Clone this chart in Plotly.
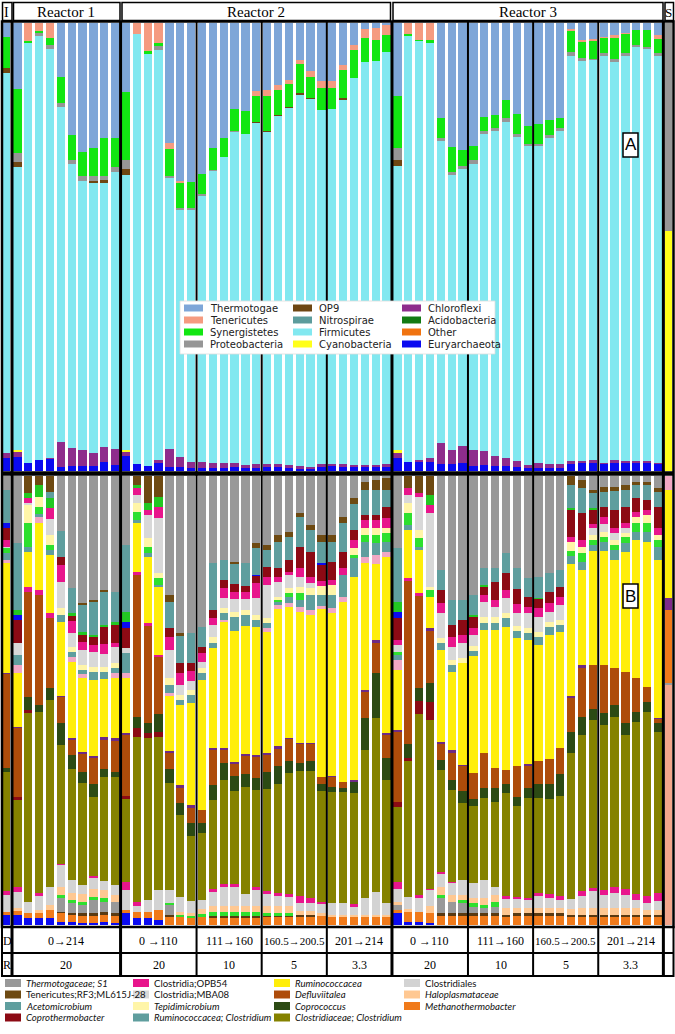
import plotly.graph_objects as go

W, H = 675, 1034


def px(x):
    return x / W


def py(y):
    return 1 - y / H


# samples: inoculum, 10 x reactor 1, 25 x reactor 2, 25 x reactor 3, substrate
samples = ["I"] + [f"R1-{i}" for i in range(1, 11)] + [f"R2-{i}" for i in range(1, 26)] + [f"R3-{i}" for i in range(1, 26)]
samples_a = samples + ["S"]
widths_b = [0.6] + [0.76] * 60
widths_a = widths_b + [0.62]

# ---------------- panel A : phyla (%) ----------------
euryarchaeota = [2.9, 3.1, 1.8, 2.5, 2.7, 0.9, 1.1, 1.1, 1.1, 2.0, 1.3,
                 3.4, 1.5, 1.1, 2.0, 0.9, 0.9, 0.7, 0.7, 0.7, 0.7,
                 0.9, 0.7, 0.7, 0.9, 0.9, 0.7, 0.4, 0.5, 1.1, 1.1,
                 1.1, 1.1, 1.1, 1.1, 1.1, 2.9, 2.0, 2.0, 2.0, 1.6,
                 1.6, 1.8, 1.1, 1.3, 1.1, 1.1, 0.9, 0.7, 0.7, 0.7,
                 0.7, 1.6, 1.8, 1.8, 1.6, 1.8, 1.8, 1.8, 1.8, 1.6, 0]
chloroflexi = [1.1, 1.3, 0, 0, 0.2, 5.6, 4.0, 3.6, 2.9, 3.3, 3.6,
               1.0, 0, 0, 0.4, 4.0, 2.2, 1.3, 1.3, 1.1, 1.1,
               0.9, 0.7, 0.9, 0.7, 0.7, 0.7, 0.7, 0.5, 0.4, 0.5,
               0.4, 0.2, 0.2, 0.2, 0.4, 1.3, 0, 0.5, 0.9, 4.7,
               3.1, 3.8, 3.6, 3.1, 2.2, 1.8, 1.3, 0.7, 1.1, 0.9,
               0.9, 0.7, 0.5, 0.7, 0.2, 0.7, 0.4, 0.4, 0.4, 0.2, 0]
cyanobacteria = [0, 0.3, 0, 0, 0, 0, 0, 0, 0, 0, 0,
                 0.3, 0, 0, 0, 0, 0, 0, 0, 0, 0,
                 0, 0, 0, 0, 0, 0, 0, 0, 0, 0,
                 0, 0, 0, 0, 0, 0.4, 0, 0, 0, 0,
                 0, 0, 0, 0, 0, 0, 0, 0, 0, 0,
                 0, 0, 0, 0, 0, 0, 0, 0, 0, 0, 53.6]
firmicutes = [84.8, 63.2, 93.8, 94.5, 91.3, 74.8, 63.4, 60.0, 60.5, 59.2, 61.8,
              61.4, 96.0, 92.2, 91.5, 60.7, 55.2, 56.4, 59.6, 65.2, 68.3,
              73.9, 73.9, 76.1, 74.1, 77.7, 79.7, 83.0, 82.1, 79.1, 79.2,
              81.5, 86.4, 90.0, 90.2, 92.1, 63.5, 95.3, 93.5, 92.6, 67.3,
              61.3, 61.8, 63.8, 70.8, 72.6, 75.0, 72.3, 71.2, 70.8, 72.7,
              74.3, 90.4, 89.2, 89.3, 90.9, 89.0, 90.5, 92.5, 92.2, 90.8, 0]
op9 = [1.1, 1.1, 0, 0, 0, 0, 0, 0, 0.2, 0.4, 0,
       1.3, 0, 0, 0, 0, 0, 0, 0, 0, 0,
       0, 0, 0.2, 0.2, 0.2, 0.2, 0.2, 0.2, 0, 0,
       0.2, 0, 0, 0, 0, 1.3, 0, 0, 0, 0,
       0, 0, 0, 0, 0, 0, 0, 0, 0, 0,
       0, 0, 0, 0, 0, 0, 0, 0, 0, 0, 0]
proteobacteria = [0, 2.0, 0, 0.7, 0.9, 0.9, 0.9, 1.1, 1.1, 0.9, 1.1,
                  2.0, 0, 0, 0.9, 0.3, 0.4, 0.3, 0.2, 0.2, 0,
                  0.2, 0, 0, 0, 0, 0, 0, 0, 0, 0,
                  0, 0, 0, 0, 0, 2.7, 0, 0, 0, 0.7,
                  0.7, 0.7, 0.9, 0.7, 0.7, 0.9, 0.7, 0.4, 0.4, 0.7,
                  0.7, 0.9, 0.7, 0.2, 0.7, 0.4, 0.7, 0.4, 0.2, 0.7, 46.4]
synergistetes = [6.9, 14.3, 0.4, 0.5, 1.6, 5.8, 5.6, 5.4, 6.3, 8.5, 6.5,
                 15.2, 0, 0.4, 0.7, 6.0, 5.6, 5.8, 4.5, 4.9, 4.2,
                 4.9, 5.1, 5.8, 7.8, 5.6, 5.1, 6.5, 4.7, 4.9, 4.7,
                 6.3, 6.3, 5.4, 4.7, 3.8, 11.6, 0.2, 0.2, 0.7, 4.5,
                 5.6, 3.6, 3.1, 3.1, 2.9, 4.0, 4.5, 4.0, 4.5, 3.3,
                 2.2, 4.7, 3.6, 4.0, 3.3, 4.7, 4.2, 3.3, 3.8, 3.1, 0]
tenericutes = [0, 0, 4.0, 1.8, 3.3, 0, 0, 0, 0, 0, 0,
               0, 2.5, 6.3, 4.5, 1.3, 0.4, 0, 0, 0, 0,
               0, 0, 1.1, 1.3, 1.1, 0.9, 0.9, 1.3, 1.6, 1.6,
               1.1, 1.1, 2.0, 2.7, 2.2, 0, 2.5, 3.8, 3.8, 0,
               0, 0, 0, 0, 0, 0, 0, 0, 0, 0,
               0, 0.4, 0.4, 0.4, 0.2, 0.7, 0.2, 0, 0, 0.9, 0]
thermotogae = [3.1, 14.7, 0, 0, 0, 12.1, 25.0, 28.8, 27.9, 25.7, 25.7,
               15.4, 0, 0, 0, 26.8, 35.3, 35.5, 33.7, 27.9, 25.7,
               19.2, 19.6, 15.2, 15.0, 13.8, 12.7, 8.3, 10.7, 12.9, 12.9,
               9.4, 4.9, 1.3, 1.1, 0.4, 16.3, 0, 0, 0, 21.2,
               27.7, 28.3, 27.5, 21.0, 20.5, 17.2, 20.3, 23.0, 22.5, 21.7,
               21.2, 1.3, 3.8, 3.6, 3.1, 2.7, 2.2, 1.6, 1.6, 2.7, 0]

# ---------------- panel B : genera (%) ----------------
blue_low = [2.4, 2.2, 1.6, 1.6, 1.6, 0.7, 0.7, 0.4, 0.4, 0.7, 0.4,
            2.7, 1.6, 1.6, 1.1, 0, 0, 0, 0, 0, 0,
            0, 0, 0, 0, 0, 0, 0, 0, 0, 0,
            0, 0, 0, 0, 0, 2.7, 0.7, 0.7, 0.4, 0,
            0, 0, 0, 0, 0, 0, 0, 0, 0, 0,
            0, 0, 0, 0, 0, 0, 0, 0, 0, 0]
methanothermobacter = [0.4, 0.9, 1.1, 1.1, 1.8, 2.0, 1.6, 1.6, 1.6, 1.6, 1.6,
                       0.7, 1.3, 1.3, 2.2, 1.8, 1.8, 1.6, 1.8, 1.6, 1.6,
                       1.6, 1.6, 1.6, 1.8, 1.8, 1.8, 1.8, 1.8, 2.2, 1.8,
                       1.8, 1.8, 1.8, 1.8, 1.8, 0.7, 2.2, 2.2, 2.2, 2.0,
                       2.0, 2.0, 2.0, 2.0, 2.0, 1.8, 2.2, 2.2, 2.2, 2.2,
                       2.2, 1.8, 1.8, 1.8, 1.8, 1.8, 1.8, 1.8, 1.8, 1.8]
brown_low = [0, 0, 0, 0, 0, 0.2, 0.4, 0.7, 0.7, 0.7, 0.7,
             0, 0, 0, 0, 0.4, 0, 0, 0, 0.4, 0.4,
             0.4, 0.4, 0.4, 0.4, 0.4, 0.4, 0.4, 0.4, 0, 0,
             0, 0, 0, 0, 0, 0, 0, 0, 0, 0.7,
             0.7, 0.7, 0.7, 0.7, 0.7, 0.4, 0.4, 0.4, 0.4, 0.4,
             0.4, 0.4, 0.4, 0.4, 0.4, 0.4, 0.4, 0.4, 0.4, 0.4]
gray_low = [0, 0, 0, 0, 0, 3.1, 2.2, 1.8, 2.9, 2.2, 2.4,
            0, 0, 0, 0, 2.4, 0, 0, 0, 0, 0,
            0, 0, 0, 0, 0, 0, 0, 0, 0, 0,
            0, 0, 0, 0, 0, 1.1, 0, 0, 0, 3.3,
            2.4, 2.2, 1.3, 1.1, 1.3, 0, 0, 0, 0, 0,
            0, 0, 0, 0, 0, 0, 0, 0, 0, 0]
green_low = [0, 0, 0, 0, 0, 0.7, 0.7, 0.7, 0.7, 0.9, 0,
             0, 0, 0, 0, 0.4, 0.4, 0.4, 0.7, 0.9, 0.9,
             0.9, 0.9, 0.9, 0.4, 0.4, 0.4, 0, 0, 0, 0,
             0, 0, 0, 0, 0, 0, 0, 0, 0, 0.7,
             0, 0.7, 0.9, 0.7, 1.1, 0, 0, 0, 0, 0,
             0, 0, 0, 0, 0, 0, 0, 0, 0, 0]
haloplasmataceae = [0, 0.7, 0, 0.7, 1.1, 1.8, 1.6, 1.6, 1.6, 1.6, 1.6,
                    0, 0, 0, 0, 0, 0.7, 0.7, 1.1, 1.3, 1.3,
                    1.3, 1.3, 1.3, 1.6, 1.6, 1.6, 0.9, 0.9, 0.4, 0.4,
                    0.4, 0.4, 0.4, 0.4, 0.4, 0.7, 0.7, 0, 1.6, 1.8,
                    1.6, 1.1, 1.1, 1.6, 1.6, 1.6, 1.1, 1.1, 1.1, 1.1,
                    1.1, 1.3, 1.6, 1.6, 1.6, 1.6, 1.6, 1.6, 1.1, 1.1]
clostridiales = [3.8, 3.6, 2.4, 3.1, 4.0, 4.9, 2.9, 2.2, 2.7, 2.2, 2.2,
                 4.5, 1.3, 2.7, 4.5, 2.7, 3.3, 2.7, 2.0, 3.1, 4.2,
                 4.2, 2.7, 3.6, 2.7, 2.2, 2.0, 1.8, 1.8, 2.2, 2.7,
                 2.7, 2.0, 3.8, 5.1, 2.7, 2.7, 2.7, 3.3, 3.6, 2.9,
                 2.7, 3.3, 3.3, 4.0, 1.8, 2.2, 2.2, 2.0, 2.7, 2.2,
                 1.8, 2.2, 2.7, 3.8, 2.9, 3.3, 2.9, 1.8, 1.6, 2.0]
clostridia_opb54 = [0.9, 1.1, 0, 0.7, 0, 0.2, 0, 0, 0.2, 0, 0,
                    1.6, 0.9, 0, 0, 0, 0, 0, 0, 0.7, 0.7,
                    0.7, 0, 0.7, 0.7, 0.7, 0.7, 1.6, 1.1, 0.4, 0,
                    0, 0.4, 0, 0, 0, 1.6, 0, 0.4, 0.2, 0.4,
                    0.2, 0, 0, 0, 0, 0.4, 0.4, 0.2, 0.7, 0.9,
                    0.9, 0, 1.1, 0.7, 1.1, 1.3, 1.3, 1.3, 1.6, 1.8]
clostridiaceae_clostridium = [26.5, 19.4, 42.1, 40.3, 41.6, 26.4, 24.5, 22.7, 17.6, 23.0, 24.1,
                              18.5, 36.7, 36.1, 33.9, 23.8, 18.3, 14.5, 14.9, 20.0, 23.2,
                              20.7, 23.8, 21.6, 22.6, 24.3, 26.9, 27.8, 28.3, 24.5, 24.7,
                              24.7, 24.9, 33.0, 38.8, 27.4, 16.7, 30.1, 40.3, 37.7, 22.7,
                              20.5, 17.2, 17.2, 18.3, 18.9, 23.1, 20.0, 22.3, 21.2, 21.2,
                              22.3, 32.7, 34.7, 37.3, 36.8, 38.0, 34.3, 38.4, 40.9, 35.8]
darkred_low = [0, 0.7, 0.7, 0, 0, 0, 0, 0, 0, 0, 0,
               0.7, 2.0, 1.1, 1.1, 0, 0, 0, 0, 0, 0,
               0, 0, 0, 0, 0, 0, 0, 0, 0, 0,
               0, 0, 0, 0, 0, 1.1, 0.7, 2.7, 4.0, 0,
               0, 0, 0, 0, 0, 0, 0, 0, 0, 0,
               0, 0, 0, 0, 0, 0, 0, 0, 0, 0]
coprococcus = [1.1, 0, 2.9, 1.6, 2.7, 4.9, 3.3, 2.4, 2.9, 1.8, 1.1,
               0, 2.4, 2.2, 4.0, 3.3, 2.7, 2.7, 2.2, 3.3, 3.8,
               3.3, 2.9, 2.7, 3.8, 4.0, 2.7, 1.8, 2.2, 1.6, 1.1,
               0.9, 2.4, 7.1, 10.0, 4.9, 0, 3.1, 2.9, 4.2, 2.2,
               2.2, 2.7, 1.6, 2.2, 3.1, 1.8, 2.2, 2.2, 3.1, 3.3,
               4.9, 4.5, 4.0, 2.4, 2.7, 2.7, 2.7, 2.2, 2.2, 2.2]
defluviitalea = [20.9, 15.4, 23.4, 24.5, 15.6, 6.0, 3.3, 4.2, 6.0, 6.7, 7.1,
                 13.8, 31.6, 21.6, 12.9, 3.6, 3.3, 3.6, 2.9, 7.8, 2.9,
                 2.9, 4.2, 4.7, 4.0, 4.0, 4.9, 4.2, 3.8, 1.6, 2.2,
                 1.3, 0, 5.8, 6.9, 5.1, 15.6, 36.3, 20.5, 11.8, 3.8,
                 6.2, 5.6, 5.8, 7.8, 4.5, 3.3, 6.7, 4.9, 5.1, 5.6,
                 5.8, 7.8, 11.1, 10.0, 10.7, 8.2, 11.4, 7.6, 3.3, 0.9]
purple_mid = [0.2, 0.2, 0, 0, 0, 0.2, 0.4, 0.2, 0.2, 0.4, 0.4,
              0.4, 0, 0, 0, 0.4, 0.7, 0.4, 0, 0.4, 0.4,
              0.4, 0.2, 0.4, 0.4, 0.4, 0.2, 0.2, 0.2, 0, 0.2,
              0, 0.4, 0.4, 0.4, 0.4, 0.4, 0, 0, 0.4, 0.2,
              0.4, 0.2, 0, 0, 0, 0, 0, 0.4, 0, 0,
              0, 0.2, 0.4, 0, 0, 0, 0, 0, 0, 0.2]
magenta_mid = [0, 0, 1.1, 1.1, 1.1, 0, 0, 0, 0, 0, 0,
               0, 0.7, 0.7, 0.4, 0, 0, 0, 0, 0, 0,
               0, 0, 0, 0, 0, 0, 0, 0, 0, 0,
               0, 0, 0, 0, 0, 0, 0.7, 0.7, 0, 0,
               0, 0, 0, 0, 0, 0, 0, 0, 0, 0,
               0, 0, 0, 0, 0, 0, 0, 0, 0, 0]
ruminococcacea = [24.5, 12.0, 7.6, 14.9, 12.9, 16.3, 16.9, 16.5, 17.1, 12.9, 13.4,
                  12.2, 10.9, 14.7, 15.1, 12.2, 17.8, 22.9, 29.0, 22.3, 28.1,
                  29.0, 28.7, 28.5, 26.9, 30.7, 29.0, 29.0, 28.3, 37.4, 36.1,
                  40.1, 45.2, 28.3, 17.1, 39.0, 13.4, 10.5, 9.4, 6.9, 20.5,
                  17.4, 22.7, 26.1, 27.4, 30.7, 31.8, 28.5, 27.4, 25.6, 27.4,
                  25.6, 29.4, 21.2, 25.4, 25.2, 24.1, 26.7, 30.7, 32.3, 35.0]
pink_up = [0.7, 1.8, 0, 1.3, 0, 0, 1.1, 0.9, 0, 0, 1.1,
           1.1, 0, 0, 0, 0.7, 0, 0, 0, 0, 0.4,
           0, 0, 0, 0.9, 0.9, 0.9, 1.1, 1.1, 0.4, 1.1,
           1.1, 0, 1.3, 1.8, 1.1, 2.2, 0, 0, 0, 0,
           0, 0, 0, 0, 0, 0, 0, 0, 0, 0,
           0, 0, 0, 0, 0, 0, 0, 0, 0, 0]
rumino_clostridium = [1.6, 2.2, 1.3, 0.7, 1.1, 1.6, 1.1, 0.9, 1.8, 1.6, 1.1,
                      4.5, 0.7, 0.9, 0.4, 1.6, 1.1, 1.6, 1.6, 1.1, 1.6,
                      3.3, 2.4, 1.6, 1.1, 0.7, 1.3, 1.6, 3.3, 2.4, 2.9,
                      4.9, 4.2, 3.3, 2.7, 2.4, 1.1, 1.1, 0.7, 0, 1.6,
                      1.6, 0, 1.1, 1.6, 1.6, 2.0, 1.6, 1.6, 1.8, 1.8,
                      1.6, 1.8, 1.8, 1.3, 2.2, 2.2, 2.0, 1.8, 2.4, 2.9]
green_up = [1.1, 0, 5.3, 1.6, 1.1, 0, 0, 0, 0, 0, 0,
            0, 1.6, 1.3, 1.6, 0, 0, 0, 0, 0, 0,
            0, 0, 0, 0, 0.4, 1.1, 1.6, 0, 0, 0,
            0, 0.7, 1.6, 1.8, 2.0, 0.7, 2.7, 2.0, 1.6, 0,
            0, 0, 0, 0, 0, 0, 0, 0, 0, 0,
            0, 1.1, 2.0, 1.1, 1.1, 1.1, 1.3, 2.0, 2.0, 1.6]
tepidimicrobium = [0, 0, 4.0, 2.2, 2.2, 1.6, 1.1, 1.1, 1.1, 1.1, 1.1,
                   0, 2.2, 2.0, 1.1, 1.6, 1.1, 1.1, 1.1, 1.3, 1.1,
                   1.1, 1.1, 1.1, 1.1, 0.7, 1.1, 1.3, 1.6, 2.2, 2.2,
                   0, 1.6, 1.6, 1.6, 1.1, 0, 2.4, 1.8, 0.7, 1.1,
                   1.1, 1.1, 1.1, 1.3, 1.3, 1.1, 1.1, 1.1, 1.1, 1.1,
                   1.1, 2.0, 1.3, 1.1, 1.1, 1.1, 0.9, 1.3, 1.8, 1.1]
clostridia_mba08 = [0.2, 2.7, 0.4, 0, 3.6, 5.8, 3.1, 3.3, 3.3, 2.9, 3.6,
                    1.1, 1.6, 5.1, 12.2, 6.2, 2.2, 2.2, 1.3, 2.7, 2.2,
                    2.7, 2.4, 3.8, 7.3, 3.3, 2.7, 2.2, 1.1, 0, 0,
                    0, 0, 0, 0, 0, 1.6, 1.6, 7.3, 16.5, 5.6,
                    2.9, 3.3, 2.4, 3.3, 2.2, 3.3, 2.9, 3.3, 3.3, 2.2,
                    3.3, 0, 0, 1.6, 1.6, 1.6, 1.1, 0, 0, 0]
magenta_up = [1.6, 0, 1.1, 0, 2.4, 3.8, 2.7, 1.8, 1.6, 2.2, 0.9,
              0, 1.6, 1.1, 2.4, 2.9, 2.7, 2.2, 2.0, 1.6, 2.2,
              1.6, 1.6, 3.3, 1.8, 1.1, 0.7, 2.0, 1.3, 0.9, 1.1,
              1.6, 1.8, 1.8, 1.8, 2.2, 1.1, 1.6, 0.9, 1.8, 2.2,
              2.2, 1.8, 1.6, 1.6, 1.6, 1.8, 2.0, 1.3, 2.2, 2.0,
              1.8, 1.3, 1.6, 0.7, 1.6, 1.1, 1.1, 1.1, 1.1, 1.6]
coprothermobacter = [2.7, 5.1, 0, 0, 0, 1.8, 1.1, 1.6, 1.8, 4.0, 4.0,
                     4.5, 0, 0, 0, 2.0, 2.2, 1.8, 1.3, 1.8, 1.8,
                     1.8, 1.3, 1.6, 2.2, 2.0, 2.7, 4.7, 5.6, 3.8, 4.0,
                     3.6, 2.2, 1.1, 1.1, 2.4, 4.9, 0, 0, 0, 2.9,
                     2.7, 3.3, 2.4, 1.8, 4.0, 3.8, 3.3, 2.2, 2.0, 2.4,
                     2.2, 6.0, 6.0, 3.3, 2.4, 4.0, 3.6, 3.1, 2.2, 4.7]
blue_up = [1.1, 1.1, 0, 0, 0, 0, 0, 0, 0, 0, 0,
           1.3, 0, 0, 0, 0, 0, 0, 0, 0, 0,
           0, 0, 0.2, 0, 0, 0, 0, 0, 0.2, 0,
           0, 0, 0, 0, 0, 1.3, 0, 0, 0, 0,
           0, 0, 0, 0, 0, 0, 0, 0, 0, 0,
           0, 0, 0, 0, 0, 0, 0, 0, 0, 0]
green_top = [0, 1.1, 1.1, 2.7, 2.2, 0, 0.7, 0.7, 0.4, 0.4, 0.7,
             2.2, 0.7, 1.6, 2.2, 0, 0, 0, 0, 0, 0,
             0, 0, 0, 0, 0, 0, 0, 0, 0, 0,
             0, 0, 0, 0, 0, 2.2, 0, 0, 2.2, 0,
             0, 0, 0.4, 0.4, 0, 0, 0, 0, 0.2, 0,
             0, 0.4, 0, 0.4, 0, 0, 0, 0, 0, 0]
acetomicrobium = [7.3, 14.9, 0, 0, 1.3, 5.8, 5.6, 6.0, 7.3, 7.3, 6.7,
                  14.9, 0, 0, 0, 5.8, 6.2, 6.5, 4.5, 10.5, 4.5,
                  4.5, 5.1, 6.0, 3.8, 5.8, 5.1, 6.7, 4.9, 4.7, 4.5,
                  6.5, 5.8, 5.6, 5.6, 3.8, 12.0, 0, 0, 0, 4.5,
                  5.6, 4.5, 4.5, 3.8, 3.1, 4.5, 4.7, 4.2, 4.5, 4.2,
                  3.8, 5.1, 5.6, 3.3, 3.3, 4.2, 3.8, 2.9, 3.3, 3.3]
tenericutes_rf3 = [0, 0, 3.8, 2.0, 3.6, 0, 0, 0.4, 0.4, 0.4, 0,
                   0, 2.0, 6.0, 4.7, 1.6, 0.4, 0, 0, 0, 0,
                   0.4, 0, 1.1, 1.1, 1.6, 1.1, 0.9, 1.1, 1.6, 1.6,
                   1.3, 1.3, 1.8, 2.2, 2.7, 0, 2.7, 3.8, 4.2, 0,
                   0, 0, 0, 0, 0, 0, 0, 0, 0, 0,
                   0, 2.0, 1.8, 0.7, 1.1, 0.9, 1.1, 0.7, 0.7, 0.9]
thermotogaceae_s1 = [3.1, 14.9, 0, 0, 0, 12.2, 24.9, 28.3, 27.6, 25.4, 25.8,
                     15.4, 0, 0, 0, 26.5, 35.0, 35.0, 33.6, 19.4, 18.7,
                     19.2, 19.4, 14.9, 15.4, 13.1, 12.5, 8.2, 10.9, 13.1, 13.1,
                     9.1, 4.9, 1.3, 0.9, 0.4, 16.0, 0, 0, 0, 20.9,
                     27.6, 27.6, 26.5, 20.5, 20.5, 17.1, 20.3, 22.7, 22.5, 21.6,
                     20.9, 0, 0.9, 3.1, 2.4, 2.4, 2.0, 1.3, 1.3, 2.7]

# substrate column of panel B (bottom -> top)
s_b_values = [53.8, 0.4, 16.3, 2.7, 24.1, 3.1]
s_b_colors = ["#F3A68C", "#9A9A9A", "#F07A1A", "#7E2A8A", "#FFEE0A", "#F2A8C4"]

# table rows
group_bounds = [(1, 10), (11, 17), (18, 23), (24, 29), (30, 35), (36, 42), (43, 48), (49, 54), (55, 60)]
days = ["0→214", "0 →110", "111→160", "160.5→200.5", "201→214", "0 →110", "111→160", "160.5→200.5", "201→214"]
hrt = ["20", "20", "10", "5", "3.3", "20", "10", "5", "3.3"]
reactors = [("Reactor 1", 1, 10), ("Reactor 2", 11, 35), ("Reactor 3", 36, 60)]
sep_thick = [0.5, 10.5, 35.5, 60.5]
sep_thin = [17.5, 23.5, 29.5, 42.5, 48.5, 54.5]

# colours
C = dict(thermotogae="#7EA6D8", tenericutes="#F59B80", synergistetes="#12E612", proteobacteria="#969696",
         op9="#6E4612", nitrospirae="#5C9C9C", firmicutes="#82E8F0", cyanobacteria="#FFFF1A",
         chloroflexi="#8E2C8C", acidobacteria="#127A12", other="#F0730F", euryarchaeota="#0A0AF0",
         gray="#999999", brown="#6E4A12", teal="#5F9E9E", darkred="#8C0A14", magenta="#E8168C",
         lgray="#D3D3D3", lyellow="#FFF5A8", green="#2EE02E", pink="#F2A8C4", yellow="#FFEE0A",
         purple="#6E2A84", rust="#AE4C0A", dgreen="#2C4A14", olive="#858200", peach="#FFC892",
         orange="#F07A1A", blue="#0A0AF0", dbrown="#5A3A12")

a_series = [("Euryarchaeota", euryarchaeota, C["euryarchaeota"]),
            ("Chloroflexi", chloroflexi, C["chloroflexi"]),
            ("Cyanobacteria", cyanobacteria, C["cyanobacteria"]),
            ("Firmicutes", firmicutes, C["firmicutes"]),
            ("OP9", op9, C["op9"]),
            ("Proteobacteria", proteobacteria, C["proteobacteria"]),
            ("Synergistetes", synergistetes, C["synergistetes"]),
            ("Tenericutes", tenericutes, C["tenericutes"]),
            ("Thermotogae", thermotogae, C["thermotogae"])]

b_series = [("blue", blue_low, C["blue"]),
            ("Methanothermobacter", methanothermobacter, C["orange"]),
            ("brown", brown_low, C["dbrown"]),
            ("gray", gray_low, C["gray"]),
            ("green", green_low, C["green"]),
            ("Haloplasmataceae", haloplasmataceae, C["peach"]),
            ("Clostridiales", clostridiales, C["lgray"]),
            ("Clostridia;OPB54", clostridia_opb54, C["magenta"]),
            ("Clostridiaceae; Clostridium", clostridiaceae_clostridium, C["olive"]),
            ("darkred", darkred_low, C["darkred"]),
            ("Coprococcus", coprococcus, C["dgreen"]),
            ("Defluviitalea", defluviitalea, C["rust"]),
            ("purple", purple_mid, C["purple"]),
            ("magenta", magenta_mid, C["magenta"]),
            ("Ruminococcacea", ruminococcacea, C["yellow"]),
            ("pink", pink_up, C["pink"]),
            ("Ruminococcacea; Clostridium", rumino_clostridium, C["teal"]),
            ("green", green_up, C["green"]),
            ("Tepidimicrobium", tepidimicrobium, C["lyellow"]),
            ("Clostridia;MBA08", clostridia_mba08, "#D8D8D8"),
            ("magenta", magenta_up, C["magenta"]),
            ("Coprothermobacter", coprothermobacter, C["darkred"]),
            ("blue", blue_up, C["blue"]),
            ("green", green_top, "#22C822"),
            ("Acetomicrobium", acetomicrobium, C["teal"]),
            ("Tenericutes;RF3;ML615J-28", tenericutes_rf3, C["brown"]),
            ("Thermotogaceae; S1", thermotogaceae_s1, C["gray"])]

fig = go.Figure()
for name, vals, col in a_series:
    fig.add_trace(go.Bar(x=samples_a, y=vals, name=name, width=widths_a, marker=dict(color=col, line_width=0),
                         xaxis="x", yaxis="y", showlegend=False, hoverinfo="name+y"))
for name, vals, col in b_series:
    fig.add_trace(go.Bar(x=samples, y=vals, name=name, width=widths_b, marker=dict(color=col, line_width=0),
                         xaxis="x2", yaxis="y2", showlegend=False, hoverinfo="name+y"))
for v, col in zip(s_b_values, s_b_colors):
    fig.add_trace(go.Bar(x=["S"], y=[v], width=[0.62], marker=dict(color=col, line_width=0),
                         xaxis="x2", yaxis="y2", showlegend=False, hoverinfo="y"))

xr = [-0.605, 61.57]
ax_x = dict(type="category", categoryorder="array", categoryarray=samples_a, range=xr, domain=[0, 1],
            showticklabels=False, showgrid=False, zeroline=False, showline=False, ticks="")
ax_y = dict(range=[0, 100], showticklabels=False, showgrid=False, zeroline=False, showline=False, ticks="")

fig.update_layout(
    width=W, height=H, margin=dict(l=0, r=0, t=0, b=0),
    paper_bgcolor="white", plot_bgcolor="white",
    barmode="stack", barnorm="percent", showlegend=False,
    xaxis=dict(ax_x, anchor="y"),
    xaxis2=dict(ax_x, anchor="y2", matches="x"),
    yaxis=dict(ax_y, domain=[py(471), py(23)], anchor="x"),
    yaxis2=dict(ax_y, domain=[py(925), py(476)], anchor="x2"),
)

shapes = []
ann = []
serif = "Liberation Serif"


def rect(x0, y0, x1, y1, lw=1.5, fill=None, lc="black"):
    shapes.append(dict(type="rect", xref="paper", yref="paper", x0=px(x0), x1=px(x1), y0=py(y0), y1=py(y1),
                       line=dict(color=lc, width=lw), fillcolor=fill or "rgba(0,0,0,0)", layer="above"))


def hline(y, x0, x1, lw):
    shapes.append(dict(type="line", xref="paper", yref="paper", x0=px(x0), x1=px(x1), y0=py(y), y1=py(y),
                       line=dict(color="black", width=lw), layer="above"))


def text(x, y, s, size, family=serif, xref="paper", anchor="center", color="black"):
    ann.append(dict(x=x if xref != "paper" else px(x), y=py(y), xref=xref, yref="paper", text=s,
                    showarrow=False, xanchor=anchor, yanchor="middle",
                    font=dict(family=family, size=size, color=color)))


# header cells
for x0, x1 in [(2.5, 12), (13.5, 120), (122, 390.5), (393, 663), (665, 673.5)]:
    rect(x0, 2.5, x1, 20.5, lw=1.5)
text(0, 12, "I", 14, xref="x")
text(61, 12, "S", 13, xref="x")
for name, a, b in reactors:
    text((a + b) / 2, 12, name, 15, xref="x")

# frames
rect(2, 21.5, 673.5, 927, lw=2.5)
hline(473.5, 2, 673.5, 4.5)
rect(2, 927, 673.5, 976, lw=2)
hline(953, 2, 673.5, 2)
for xs, lw in [(sep_thick, 3), (sep_thin, 2)]:
    for xv in xs:
        shapes.append(dict(type="line", xref="x", yref="paper", x0=xv, x1=xv, y0=py(21.5), y1=py(976),
                           line=dict(color="black", width=lw), layer="above"))

# D / R rows
text(7, 941, "D", 12, anchor="center")
text(7, 965, "R", 12, anchor="center")
for (a, b), d, r in zip(group_bounds, days, hrt):
    text((a + b) / 2, 941, d, 12 if len(d) < 9 else 11, xref="x")
    text((a + b) / 2, 965, r, 12, xref="x")

# panel labels
rect(623, 133, 638, 157, lw=1.5, fill="white")
text(630.5, 145, "A", 17, family="Liberation Sans")
rect(623, 584, 638, 608, lw=1.5, fill="white")
text(630.5, 596, "B", 17, family="Liberation Sans")

# legend A (manual, three columns)
leg_a_labels = ["Thermotogae", "Tenericutes", "Synergistetes", "Proteobacteria",
                "OP9", "Nitrospirae", "Firmicutes", "Cyanobacteria",
                "Chloroflexi", "Acidobacteria", "Other", "Euryarchaeota"]
leg_a_colors = [C["thermotogae"], C["tenericutes"], C["synergistetes"], C["proteobacteria"],
                C["op9"], C["nitrospirae"], C["firmicutes"], C["cyanobacteria"],
                C["chloroflexi"], C["acidobacteria"], C["other"], C["euryarchaeota"]]
rect(180, 301, 495, 354, lw=0.8, fill="white", lc="#DDDDDD")
col_x = [184, 293, 402]
row_y = [308, 320, 332, 344]
for i, (lab, col) in enumerate(zip(leg_a_labels, leg_a_colors)):
    cx, ry = col_x[i // 4], row_y[i % 4]
    rect(cx, ry - 3.5, cx + 19, ry + 3.5, lw=0, fill=col)
    text(cx + 23.5, ry, lab, 10, family="DejaVu Sans", anchor="left", color="#222222")

# legend B (manual, four columns)
leg_b_labels = ["<i>Thermotogaceae; S1</i>", "Clostridia;OPB54", "<i>Ruminococcacea</i>", "Clostridiales",
                "Tenericutes;RF3;ML615J-28", "Clostridia;MBA08", "<i>Defluviitalea</i>", "<i>Haloplasmataceae</i>",
                "<i>Acetomicrobium</i>", "<i>Tepidimicrobium</i>", "<i>Coprococcus</i>", "<i>Methanothermobacter</i>",
                "<i>Coprothermobacter</i>", "<i>Ruminococcacea; Clostridium</i>", "<i>Clostridiaceae; Clostridium</i>"]
leg_b_colors = [C["gray"], C["magenta"], C["yellow"], C["lgray"],
                C["brown"], "#D8D8D8", C["rust"], C["peach"],
                C["teal"], C["lyellow"], C["dgreen"], C["orange"],
                C["darkred"], C["teal"], C["olive"]]
bcol_x = [5, 133, 274, 404]
brow_y = [983, 994.5, 1006, 1017.5]
for i, (lab, col) in enumerate(zip(leg_b_labels, leg_b_colors)):
    cx, ry = bcol_x[i % 4], brow_y[i // 4]
    rect(cx, ry - 4, cx + 16, ry + 4, lw=0, fill=col)
    text(cx + 18.5, ry, lab, 9.6, family="Lato", anchor="left", color="#111111")

fig.update_layout(shapes=shapes, annotations=ann)
# page body has a default 8px margin; remove it so the figure sits at the window origin
fig.write_html("out.html", config={"displayModeBar": False},
               post_script="document.body.style.margin='0';")
